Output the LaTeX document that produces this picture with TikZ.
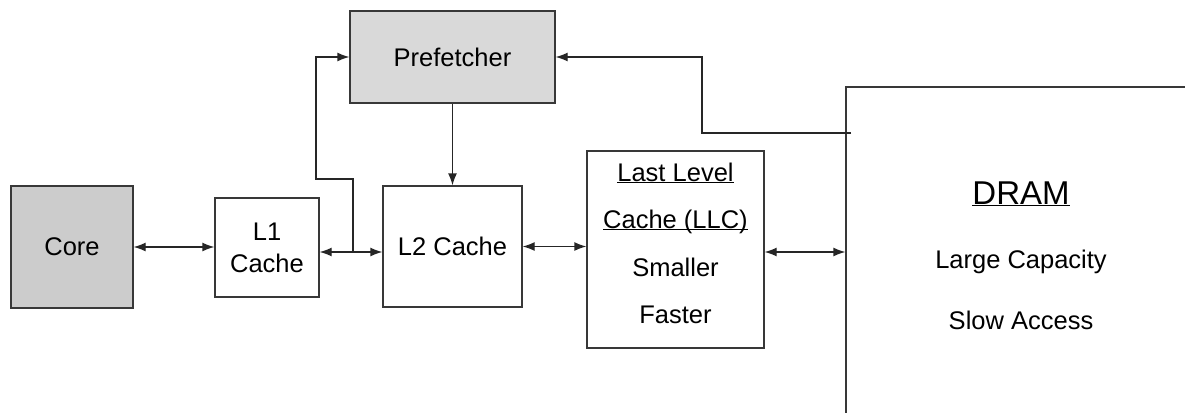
\documentclass[tikz,border=0pt]{standalone}
\usepackage{fontspec}
\setmainfont{Liberation Sans}
\usetikzlibrary{arrows.meta,calc}
\tikzset{
  box/.style={draw=black!78, line width=1.3pt, rectangle, inner sep=0pt, font=\fontsize{25.5}{30}\selectfont},
  grayfill/.style={fill=black!20},
  lightfill/.style={fill=black!15},
  conn/.style={draw=black!85, line width=1.3pt},
  tip/.style={-{Latex[length=12pt,width=9pt]}},
  biti/.style={{Latex[length=12pt,width=9pt]}-{Latex[length=12pt,width=9pt]}},
  txt/.style={inner sep=0pt, anchor=base, font=\fontsize{25.5}{30}\selectfont}
}
\newcommand{\ulfix}[1]{\underline{\smash{#1}}}
\begin{document}
\begin{tikzpicture}[x=1pt,y=-1pt]
\useasboundingbox (0,0) rectangle (1185,412);
\clip (0,0) rectangle (1185,412);
\fill[white] (0,0) rectangle (1185,412);
% boxes
\node[box,grayfill,minimum width=122pt,minimum height=122pt] (core) at (72,247) {Core};
\node[box,minimum width=104pt,minimum height=99pt,align=center,font=\fontsize{25.5}{32}\selectfont] (l1) at (267,247.5) {L1\\Cache};
\node[box,minimum width=139pt,minimum height=121pt] (l2) at (452.5,246.5) {L2 Cache};
\node[box,lightfill,minimum width=205pt,minimum height=92pt] (pf) at (452.5,57) {Prefetcher};
\node[box,minimum width=177pt,minimum height=197pt] (llc) at (675.5,249.5) {};
\node[txt] (llc1) at (675.5,181) {\ulfix{Last Level}};
\node[txt] (llc2) at (675.5,228) {\ulfix{Cache (LLC)}};
\node[txt] (llc3) at (675.5,276) {Smaller};
\node[txt] (llc4) at (675.5,323) {Faster};
\node[box,minimum width=400pt,minimum height=400pt] (dram) at (1046,287) {};
\node[txt,font=\fontsize{33}{40}\selectfont] (dramtitle) at (1021,204) {\ulfix{DRAM}};
\node[txt] (cap) at (1021,268) {Large Capacity};
\node[txt] (slow) at (1021,329) {Slow Access};
% connectors
\draw[conn,biti] (core.east) -- (core.east -| l1.west);
\coordinate (l1r) at ($(l1.east)+(0,4.5)$);
\draw[conn,biti] (l1r) -- (l1r -| l2.west);
\coordinate (br) at (353,252);
\draw[conn,tip] (br) -- (353,179) -- (316,179) |- (pf.west);
\draw[conn,tip] (pf.south) -- (pf.south |- l2.north);
\draw[conn,biti] (l2.east) -- (l2.east -| llc.west);
\coordinate (llcr) at ($(llc.east)+(0,2.5)$);
\draw[conn,biti] (llcr) -- (llcr -| dram.west);
\coordinate (tap) at (851,133);
\draw[conn,tip] (tap) -- (702,133) |- (pf.east);
\end{tikzpicture}
\end{document}
